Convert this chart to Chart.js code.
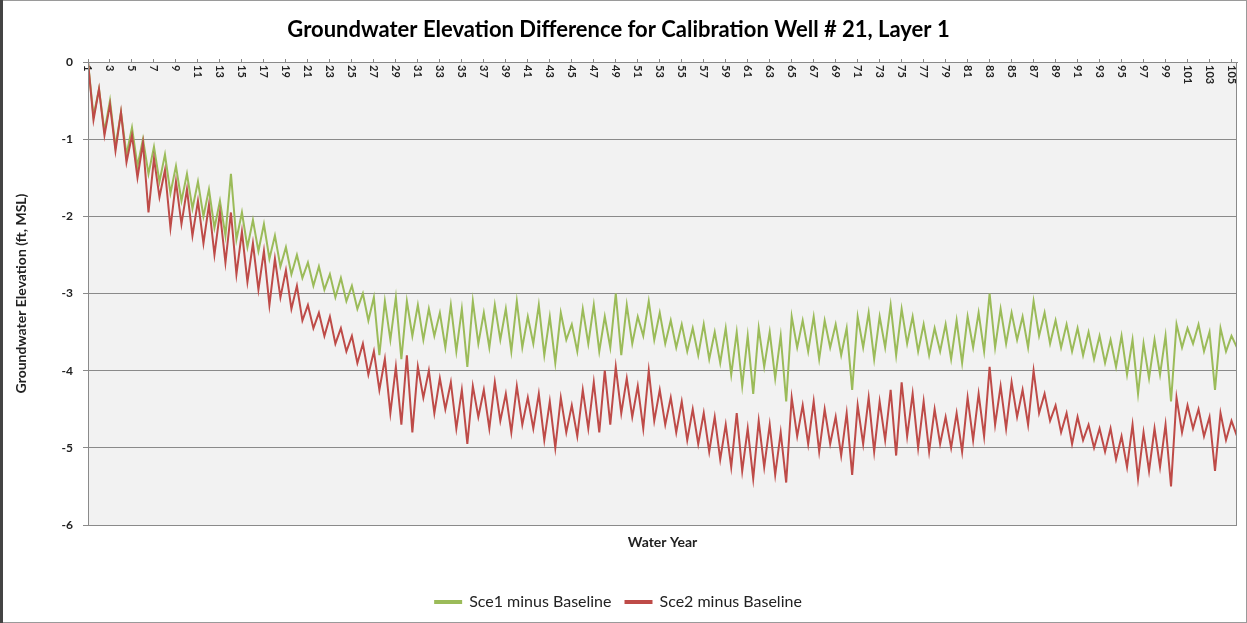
<!DOCTYPE html>
<html>
<head>
<meta charset="utf-8">
<script src="https://cdn.jsdelivr.net/npm/chart.js@4.4.1/dist/chart.umd.min.js"></script>
<style>
  html, body { margin: 0; padding: 0; background: #fff; }
  #wrap { width: 1247px; height: 623px; }
</style>
</head>
<body>
<div id="wrap"><canvas id="wellChart"></canvas></div>
<script>
// x tick labels (every other water year)
const tickYears = [1, 3, 5, 7, 9, 11, 13, 15, 17, 19, 21, 23, 25, 27, 29, 31, 33, 35, 37, 39,
  41, 43, 45, 47, 49, 51, 53, 55, 57, 59, 61, 63, 65, 67, 69, 71, 73, 75, 77, 79,
  81, 83, 85, 87, 89, 91, 93, 95, 97, 99, 101, 103, 105];
const yTicks = [0, -1, -2, -3, -4, -5, -6];

// two readings per water year (seasonal high, seasonal low), starting at year 1
const sce1 = [
  0.00, -0.70, -0.35, -0.90, -0.50, -1.10, -0.65, -1.20, -0.85, -1.35,
  -1.00, -1.45, -1.10, -1.55, -1.20, -1.70, -1.35, -1.80, -1.45, -1.90,
  -1.55, -2.00, -1.65, -2.15, -1.80, -2.25, -1.45, -2.30, -1.95, -2.40,
  -2.05, -2.45, -2.10, -2.55, -2.25, -2.65, -2.40, -2.75, -2.50, -2.80,
  -2.60, -2.90, -2.65, -2.95, -2.75, -3.05, -2.80, -3.10, -2.90, -3.20,
  -3.00, -3.35, -3.05, -3.80, -3.10, -3.60, -3.05, -3.85, -3.10, -3.55,
  -3.15, -3.60, -3.20, -3.55, -3.25, -3.70, -3.15, -3.75, -3.20, -3.95,
  -3.10, -3.65, -3.25, -3.70, -3.15, -3.60, -3.20, -3.75, -3.10, -3.70,
  -3.30, -3.65, -3.15, -3.80, -3.30, -3.90, -3.25, -3.60, -3.40, -3.75,
  -3.20, -3.65, -3.15, -3.75, -3.30, -3.70, -3.00, -3.80, -3.15, -3.65,
  -3.30, -3.55, -3.10, -3.60, -3.25, -3.65, -3.35, -3.70, -3.40, -3.75,
  -3.45, -3.80, -3.40, -3.85, -3.50, -3.90, -3.45, -4.05, -3.50, -4.20,
  -3.55, -4.30, -3.45, -3.95, -3.50, -4.10, -3.55, -4.40, -3.30, -3.70,
  -3.35, -3.75, -3.30, -3.85, -3.35, -3.70, -3.40, -3.80, -3.45, -4.25,
  -3.30, -3.70, -3.25, -3.85, -3.30, -3.70, -3.15, -3.80, -3.20, -3.65,
  -3.30, -3.75, -3.40, -3.80, -3.45, -3.75, -3.40, -3.85, -3.35, -3.90,
  -3.30, -3.70, -3.25, -3.75, -3.00, -3.70, -3.20, -3.65, -3.25, -3.60,
  -3.30, -3.70, -3.10, -3.55, -3.25, -3.65, -3.35, -3.70, -3.40, -3.75,
  -3.45, -3.80, -3.50, -3.85, -3.55, -3.90, -3.60, -3.95, -3.55, -4.05,
  -3.60, -4.30, -3.65, -4.10, -3.60, -4.05, -3.55, -4.40, -3.40, -3.70,
  -3.45, -3.65, -3.40, -3.75, -3.50, -4.25, -3.45, -3.75, -3.55, -3.70
];
const sce2 = [
  0.00, -0.75, -0.35, -0.95, -0.55, -1.15, -0.65, -1.30, -0.95, -1.50,
  -1.05, -1.95, -1.25, -1.75, -1.40, -2.15, -1.55, -2.10, -1.65, -2.25,
  -1.80, -2.35, -1.85, -2.50, -1.95, -2.60, -1.95, -2.75, -2.20, -2.85,
  -2.35, -2.95, -2.45, -3.15, -2.55, -3.05, -2.70, -3.20, -2.90, -3.35,
  -3.15, -3.45, -3.25, -3.55, -3.30, -3.65, -3.45, -3.75, -3.55, -3.90,
  -3.65, -4.05, -3.75, -4.25, -3.85, -4.55, -3.95, -4.70, -3.80, -4.80,
  -3.95, -4.35, -4.00, -4.55, -4.10, -4.50, -4.15, -4.75, -4.25, -4.95,
  -4.20, -4.60, -4.25, -4.75, -4.15, -4.65, -4.30, -4.80, -4.20, -4.70,
  -4.35, -4.75, -4.30, -4.90, -4.40, -5.00, -4.35, -4.80, -4.45, -4.85,
  -4.25, -4.75, -4.15, -4.80, -4.00, -4.70, -3.95, -4.55, -4.10, -4.60,
  -4.20, -4.75, -4.00, -4.65, -4.25, -4.70, -4.35, -4.80, -4.40, -4.90,
  -4.50, -4.95, -4.55, -5.05, -4.60, -5.15, -4.70, -5.25, -4.55, -5.30,
  -4.75, -5.40, -4.65, -5.25, -4.70, -5.35, -4.80, -5.45, -4.35, -4.85,
  -4.45, -4.95, -4.40, -5.05, -4.50, -4.95, -4.60, -5.10, -4.55, -5.35,
  -4.45, -4.95, -4.35, -5.05, -4.40, -4.90, -4.25, -5.10, -4.15, -4.85,
  -4.30, -5.00, -4.40, -5.05, -4.50, -4.95, -4.60, -5.00, -4.55, -5.05,
  -4.35, -4.90, -4.30, -4.85, -3.95, -4.70, -4.20, -4.75, -4.15, -4.60,
  -4.25, -4.70, -4.00, -4.55, -4.30, -4.65, -4.45, -4.80, -4.55, -4.95,
  -4.60, -4.90, -4.70, -5.00, -4.75, -5.05, -4.75, -5.15, -4.85, -5.25,
  -4.70, -5.40, -4.80, -5.30, -4.75, -5.25, -4.70, -5.50, -4.35, -4.80,
  -4.45, -4.75, -4.50, -4.85, -4.60, -5.30, -4.55, -4.90, -4.65, -4.85
];

const FONT = "Lato, 'Open Sans', sans-serif";

// half-year steps along the water year axis
function toPoints(vals) {
  return vals.map((v, i) => ({ x: 1 + i / 2, y: v }));
}

const frame = {
  id: 'frame',
  beforeDraw(chart) {
    const { ctx, chartArea: a } = chart;
    ctx.save();
    ctx.fillStyle = '#f2f2f2';
    ctx.fillRect(a.left, a.top, a.right - a.left, a.bottom - a.top);
    ctx.restore();
  },
  afterDraw(chart) {
    const { ctx, chartArea: a, width, height } = chart;
    ctx.save();
    ctx.strokeStyle = '#8a8a8a';
    ctx.lineWidth = 1;
    ctx.strokeRect(a.left + 0.5, a.top + 0.5, a.right - a.left - 1, a.bottom - a.top);
    ctx.strokeStyle = '#9a9a9a';
    ctx.strokeRect(0.5, 0.5, width - 1, height - 1);
    ctx.strokeStyle = '#444';
    ctx.lineWidth = 3;
    ctx.beginPath();
    ctx.moveTo(1.5, 0);
    ctx.lineTo(1.5, height);
    ctx.stroke();
    ctx.restore();
  }
};

new Chart(document.getElementById('wellChart'), {
  type: 'line',
  data: {
    datasets: [{
      label: 'Sce1 minus Baseline',
      data: toPoints(sce1),
      borderColor: '#9bbb59',
      borderWidth: 2,
      pointRadius: 0,
      order: 1
    }, {
      label: 'Sce2 minus Baseline',
      data: toPoints(sce2),
      borderColor: '#be4b48',
      borderWidth: 2,
      pointRadius: 0,
      order: 0
    }]
  },
  options: {
    responsive: true,
    maintainAspectRatio: false,
    animation: false,
    layout: { padding: { left: 0, right: 10, top: 0, bottom: 3 } },
    plugins: {
      title: {
        display: true,
        text: 'Groundwater Elevation Difference for Calibration Well # 21, Layer 1',
        color: '#000',
        font: { family: FONT, size: 22, weight: 'bold' },
        padding: { top: 17, bottom: 18.6 }
      },
      legend: {
        position: 'bottom',
        labels: {
          color: '#222',
          font: { family: FONT, size: 16 },
          boxWidth: 26,
          boxHeight: 2,
          padding: 14,
          sort: (a, b) => a.datasetIndex - b.datasetIndex
        }
      },
      tooltip: { enabled: false }
    },
    scales: {
      x: {
        type: 'linear',
        position: 'top',
        min: 1,
        max: 105.5,
        afterBuildTicks: scale => { scale.ticks = tickYears.map(v => ({ value: v })); },
        afterFit: scale => { scale.height = 0; },
        ticks: {
          autoSkip: false,
          mirror: true,
          minRotation: 270,
          maxRotation: 270,
          padding: 3,
          color: '#222',
          font: { family: FONT, size: 11, weight: 'bold' }
        },
        grid: { drawOnChartArea: false, tickLength: 3, color: '#8a8a8a' },
        border: { color: '#8a8a8a' }
      },
      x2: {
        type: 'linear',
        position: 'bottom',
        afterFit: scale => { scale.height = 55; },
        ticks: { display: false },
        grid: { display: false },
        border: { display: false },
        title: {
          display: true,
          text: 'Water Year',
          color: '#222',
          font: { family: FONT, size: 14, weight: 'bold' },
          padding: { top: 0, bottom: 29.6 }
        }
      },
      y: {
        min: -6,
        max: 0,
        afterBuildTicks: scale => { scale.ticks = yTicks.map(v => ({ value: v })); },
        afterFit: scale => { scale.width = 88; },
        ticks: {
          color: '#222',
          padding: 10,
          font: { family: FONT, size: 12, weight: 'bold' }
        },
        grid: { color: '#8a8a8a', tickLength: 5 },
        border: { color: '#8a8a8a' },
        title: {
          display: true,
          text: 'Groundwater Elevation (ft, MSL)',
          color: '#222',
          font: { family: FONT, size: 14, weight: 'bold' },
          padding: { top: 13, bottom: 0 }
        }
      }
    }
  },
  plugins: [frame]
});
</script>
</body>
</html>
